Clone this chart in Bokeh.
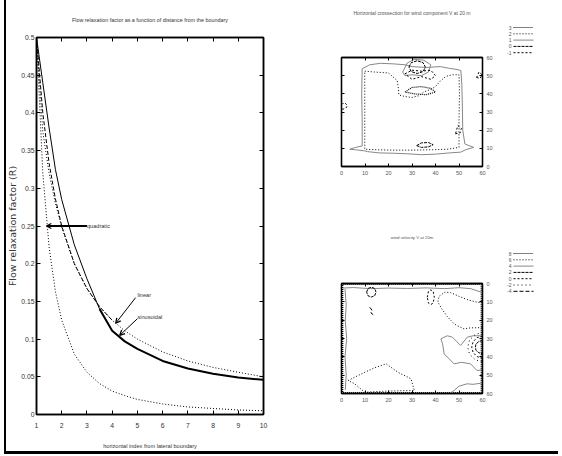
from bokeh.plotting import figure
from bokeh.models import (Range1d, LinearAxis, FixedTicker, Arrow, OpenHead, Label,
                          CustomLabelingPolicy)
from bokeh.layouts import row, column
from bokeh.embed import file_html
from bokeh.resources import INLINE
from bokeh.core.properties import value

SANS = "Liberation Sans"
WIDE = "DejaVu Sans"

# ---------------- left chart data ----------------
dist = [1, 1.25, 1.5, 1.75, 2, 2.5, 3, 3.5, 4, 4.5, 5, 6, 7, 8, 9, 10]
quadratic = [0.5, 0.32, 0.222, 0.163, 0.125, 0.08, 0.056, 0.041, 0.031, 0.025,
             0.02, 0.014, 0.010, 0.008, 0.006, 0.005]
linear = [0.5, 0.4, 0.333, 0.286, 0.25, 0.2, 0.167, 0.143, 0.125, 0.111,
          0.1, 0.083, 0.071, 0.0625, 0.056, 0.05]
upper_dotted = [0.5, 0.375, 0.32, 0.28, 0.248, 0.2, 0.167, 0.143, 0.125, 0.111,
                0.1, 0.083, 0.071, 0.0625, 0.056, 0.05]
sinusoidal = [0.5, 0.44, 0.38, 0.325, 0.285, 0.225, 0.18, 0.14, 0.111, 0.097,
              0.087, 0.071, 0.061, 0.054, 0.049, 0.046]
x_ticks = [1, 2, 3, 4, 5, 6, 7, 8, 9, 10]
y_ticks = [0, 0.05, 0.1, 0.15, 0.2, 0.25, 0.3, 0.35, 0.4, 0.45, 0.5]
y_tick_labels = ["0", "0.05", "0.1", "0.15", "0.2", "0.25", "0.3", "0.35", "0.4", "0.45", "0.5"]

# ---------------- top-right contour data (V component) ----------------
grid_ticks = [0, 10, 20, 30, 40, 50, 60]
top_levels = ["3", "2", "1", "0", "-1"]
top_xs = {
    "3": [[27, 30, 34, 38, 40, 36, 31, 27]],
    "2": [[9.9, 14, 20, 23.7, 24.2, 24.4, 27, 30, 33, 35, 38, 40, 42, 44.3, 47, 50, 50.2, 50, 50, 45, 38, 30, 22, 15, 9.9, 9.9, 9.9]],
    "1": [[8.8, 12, 16.6, 22, 27, 30, 36, 42, 46, 49.2, 50.8, 51.2, 51.4, 51.6, 52.5, 56.3, 53, 50.7, 46, 40, 34, 28, 22, 16, 11, 9.5, 6, 3.5, 6, 8.8, 8.8, 8.6, 8.8],
          [26, 28, 31, 35, 38, 37, 34, 30, 27, 26]],
    "0": [[28.7, 29.7, 32.2, 34.7, 35.7, 34.7, 32.2, 29.7, 28.7],
          [32, 34, 37, 39, 37, 34, 32]],
    "-1": [[27, 30, 34, 38, 40, 38, 34, 30, 27],
           [0.3, 1.8, 2.5, 1.5, 0.3],
           [57.5, 59, 59.8, 58.5, 57.5],
           [48.5, 50.5, 51, 49.5, 48.5]],
}
top_ys = {
    "3": [[41, 43.5, 44, 43, 41, 39.5, 40, 41]],
    "2": [[52.5, 52, 51.5, 47.3, 43, 39.4, 38.5, 38, 39, 41, 42.5, 44, 47, 49.5, 50.5, 50.5, 40, 25, 10.5, 9.5, 9.2, 9, 9, 9.2, 9.5, 30, 52.5]],
    "1": [[53.8, 56, 56.8, 56.5, 56, 55, 54.5, 55, 54, 53.4, 52.8, 45, 35, 20, 12.4, 10.5, 9.3, 7.9, 7.5, 6.8, 6.5, 7, 7.3, 7.5, 8.2, 8.7, 9.2, 9.5, 10.5, 11.3, 25, 40, 53.8],
          [52, 57, 59, 58.5, 56, 52, 50, 50.5, 50, 52]],
    "0": [[54.7, 57.2, 58.2, 57.2, 54.7, 52.2, 51.2, 52.2, 54.7],
          [11.5, 13, 13.2, 12, 10.8, 10.5, 11.5]],
    "-1": [[51, 53, 52.5, 53, 50, 48, 49.5, 48, 51],
           [31.5, 32, 33.5, 35, 34.5],
           [49, 48.5, 50.5, 52, 49],
           [18, 18.5, 21, 22.5, 18]],
}

# ---------------- bottom-right contour data (wind velocity) ----------------
bot_levels = ["8", "6", "4", "2", "0", "-2", "-4"]
bot_xs = {
    "8": [[0.5, 59.5, 59.5, 0.5, 0.5]],
    "6": [[60, 57.7, 54, 50, 46.5, 44, 41.5, 41, 42.5, 45, 47.9, 50, 52.1, 55, 59.2, 60],
          [2.8, 8.5, 14, 19, 24, 29.6, 31, 25, 19.7, 14, 9.9, 5.6, 2.8]],
    "4": [[0.5, 5, 12, 20, 28, 36, 44, 50, 55, 60],
          [1.5, 2.0, 1.6, 2.2, 1.5, 2.0, 1.6],
          [60, 59.2, 56, 53.5, 50.7, 47.2, 45, 42.3, 43, 43.7, 47.9, 51, 54.9, 57.7, 60],
          [46, 47.9, 50, 53.5, 56, 59.2, 60]],
    "2": [[10.7, 11.3, 12.7, 14.1, 14.7, 14.1, 12.7, 11.3, 10.7],
          [60, 58.5, 57.2, 57, 57.2, 58.5, 60]],
    "0": [[36.5, 37, 38, 39, 39.5, 39, 38, 37, 36.5],
          [60, 57.7, 56, 55.4, 56, 57.7, 60]],
    "-2": [[60, 56.9, 54.5, 53.7, 54.5, 56.9, 60]],
    "-4": [[12, 13, 12.5, 13.5]],
}
bot_ys = {
    "8": [[0.5, 0.5, 59.5, 59.5, 0.5]],
    "6": [[10.5, 10.2, 9, 7, 5, 4.7, 7, 10, 13.5, 18, 22, 23.5, 24.7, 24.2, 24.1, 24.3],
          [52.9, 49.3, 46, 43.8, 48.4, 52, 58.4, 58.5, 58.7, 59, 59.3, 54.7, 52.9]],
    "4": [[2.5, 2.2, 2.8, 2.5, 2.7, 2.4, 2.8, 2.3, 2.8, 5.0],
          [3, 12, 20, 30, 40, 50, 58],
          [28, 28.5, 28.5, 29.3, 33.8, 29.3, 28.5, 30.2, 32.9, 38.4, 43.8, 43, 43.8, 47.5, 47],
          [60, 58.4, 56, 54.7, 55, 54.4, 54]],
    "2": [[4.7, 2.7, 2, 2.7, 4.7, 6.7, 7.4, 6.7, 4.7],
          [31.1, 31.6, 33, 34.7, 36.4, 37.8, 38.3]],
    "0": [[7.5, 4.3, 3.5, 4.3, 7.5, 10.7, 11.5, 10.7, 7.5],
          [28.7, 29.5, 31.8, 34.7, 37.6, 39.9, 40.7]],
    "-2": [[26.7, 27.8, 30.8, 34.7, 38.6, 41.6, 42.7]],
    "-4": [[13, 14.5, 16, 17]],
}

top_style = {
    "3": ("black", 1.2, "1 1"), "2": ("black", 1.0, "1 2"), "1": ("#888888", 1.0, "solid"),
    "0": ("black", 1.0, "3 1"), "-1": ("black", 1.0, "2 2"),
}
bot_style = {
    "8": ("black", 1.4, "1 1"), "6": ("black", 1.0, "1 2"), "4": ("#888888", 1.0, "solid"),
    "2": ("black", 1.0, "3 1"), "0": ("black", 1.0, "2 2"), "-2": ("black", 1.0, "1 3"),
    "-4": ("black", 1.0, "4 2"),
}

TXT = "#333333"
LIGHT = "#555555"
HIDE_LABELS = "for (let i = 0; i < bboxes.length; i++) { indices.unset(i) } return indices"


def mirror_axis(ticks, tick_len, width):
    return LinearAxis(ticker=FixedTicker(ticks=ticks), major_tick_in=tick_len, major_tick_out=0,
                      minor_tick_line_color=None, axis_line_width=width, major_label_standoff=0,
                      major_label_text_font_size="1px",
                      major_label_policy=CustomLabelingPolicy(code=HIDE_LABELS))


def text_strip(width, height, mleft, mright, xr, x, y, text, size, color, font=SANS, angle=0.0):
    s = figure(width=width, height=height, x_range=xr, y_range=Range1d(height, 0),
               output_backend="svg", toolbar_location=None, x_axis_type=None, y_axis_type=None,
               min_border_left=mleft, min_border_right=mright, min_border_top=0,
               min_border_bottom=0)
    s.grid.visible = False
    s.outline_line_color = None
    s.text(x=[x], y=[y], text=[text], angle=angle, text_align="center", text_baseline="middle",
           text_font=value(font), text_font_size=value(size), text_color=color)
    return s


# ---------------- left figure ----------------
p = figure(width=280, height=423, x_range=Range1d(1, 10), y_range=Range1d(0, 0.5),
           output_backend="svg", toolbar_location=None,
           min_border_left=15, min_border_right=35, min_border_top=9, min_border_bottom=37)
p.grid.visible = False
p.outline_line_color = "black"
p.outline_line_width = 1.5
p.border_fill_color = "white"

for ax in p.xaxis:
    ax.ticker = FixedTicker(ticks=x_ticks)
    ax.major_tick_in = 4
    ax.major_tick_out = 0
    ax.minor_tick_line_color = None
    ax.major_label_standoff = 8
    ax.major_label_text_font = SANS
    ax.major_label_text_font_size = "6.8px"
    ax.major_label_text_color = TXT
    ax.axis_line_width = 1.5
    ax.axis_label = "horizontal index from lateral boundary"
    ax.axis_label_text_font = SANS
    ax.axis_label_text_font_size = "5.6px"
    ax.axis_label_text_font_style = "normal"
    ax.axis_label_text_color = TXT
    ax.axis_label_standoff = 12

for ax in p.yaxis:
    ax.ticker = FixedTicker(ticks=y_ticks)
    ax.major_label_overrides = dict(zip(y_ticks, y_tick_labels))
    ax.major_tick_in = 4
    ax.major_tick_out = 0
    ax.minor_tick_line_color = None
    ax.major_label_standoff = 2
    ax.major_label_text_font = SANS
    ax.major_label_text_font_size = "6.8px"
    ax.major_label_text_color = TXT
    ax.axis_line_width = 1.5

p.add_layout(mirror_axis(x_ticks, 4, 1.5), "above")
p.add_layout(mirror_axis(y_ticks, 4, 1.5), "right")

p.line(dist, quadratic, line_color="black", line_width=1, line_dash="1 2")
p.line(dist, upper_dotted, line_color="black", line_width=1, line_dash="1 2")
p.line(dist[:9], linear[:9], line_color="black", line_width=1, line_dash="4 2")
p.line(dist[:8], sinusoidal[:8], line_color="black", line_width=1)
p.line(dist[7:], sinusoidal[7:], line_color="black", line_width=2)

for txt, tx, ty, x0, y0, x1, y1 in [("quadratic", 3.0, 0.25, 3.0, 0.25, 1.39, 0.25),
                                     ("linear", 5.0, 0.159, 4.93, 0.155, 4.14, 0.121),
                                     ("sinusoidal", 5.0, 0.129, 5.0, 0.127, 4.30, 0.105)]:
    p.add_layout(Label(x=tx, y=ty, text=txt, text_align="left", text_baseline="middle",
                       text_font=SANS, text_font_size="5.6px", text_color=TXT))
    p.add_layout(Arrow(end=OpenHead(size=5, line_width=1.3, line_color="black"),
                       x_start=x0, y_start=y0, x_end=x1, y_end=y1,
                       line_width=1.8 if txt == "quadratic" else 1.0, line_color="black"))

left_title = text_strip(280, 28, 15, 35, Range1d(1, 10), 5.5, 19,
                        "Flow relaxation factor as a function of distance from the boundary",
                        "5.4px", TXT)
y_label = text_strip(12, 451, 0, 0, Range1d(0, 12), 6, 225.5, "Flow relaxation factor (R)",
                     "9.5px", TXT, font=WIDE, angle=1.5708)


# ---------------- right side ----------------
def contour_fig(height, mtop, mbottom, y_range, levels, xs, ys, styles):
    q = figure(width=204, height=height, x_range=Range1d(0, 60), y_range=y_range,
               output_backend="svg", toolbar_location=None, y_axis_location="right",
               min_border_left=43, min_border_right=20, min_border_top=mtop,
               min_border_bottom=mbottom)
    q.grid.visible = False
    q.outline_line_color = "black"
    q.outline_line_width = 1.3
    q.border_fill_color = "white"
    for ax in list(q.xaxis) + list(q.yaxis):
        ax.ticker = FixedTicker(ticks=grid_ticks)
        ax.major_tick_in = 3
        ax.major_tick_out = 0
        ax.minor_tick_line_color = None
        ax.major_label_text_font = SANS
        ax.major_label_text_font_size = "5.5px"
        ax.major_label_text_color = LIGHT
        ax.major_label_standoff = 4
        ax.axis_line_width = 1.3
    q.add_layout(mirror_axis(grid_ticks, 3, 1.3), "above")
    q.add_layout(mirror_axis(grid_ticks, 3, 1.3), "left")
    for lvl in levels:
        color, width, dash = styles[lvl]
        q.multi_line(xs[lvl], ys[lvl], line_color=color, line_width=width, line_dash=dash)
    return q


def key_fig(height, levels, styles, first_y):
    k = figure(width=56, height=height, x_range=Range1d(0, 56), y_range=Range1d(height, 0),
               output_backend="svg", toolbar_location=None, x_axis_type=None, y_axis_type=None,
               min_border=0)
    k.grid.visible = False
    k.outline_line_color = None
    ys = [first_y + 6.3 * i for i in range(len(levels))]
    k.text(x=[9] * len(levels), y=ys, text=levels, text_align="right", text_baseline="middle",
           text_font=value(SANS), text_font_size=value("5px"), text_color=LIGHT)
    for lvl, y in zip(levels, ys):
        color, width, dash = styles[lvl]
        k.line([11, 31], [y, y], line_color=color, line_width=min(width, 1.0), line_dash=dash)
    return k


s1 = text_strip(204, 24, 43, 20, Range1d(0, 60), 30, 12,
                "Horizontal crossection for wind component V at 20 m", "5px", LIGHT)
q1 = contour_fig(198, 33, 56, Range1d(0, 60), top_levels, top_xs, top_ys, top_style)
s2 = text_strip(204, 28, 43, 20, Range1d(0, 60), 30, 15, "wind velocity V at 20m", "4.3px", LIGHT)
q2 = contour_fig(201, 33, 58, Range1d(60, 0), bot_levels, bot_xs, bot_ys, bot_style)
k1 = key_fig(222, top_levels, top_style, 27)
k2 = key_fig(229, bot_levels, bot_style, 31)

layout = row(y_label, column(left_title, p), column(s1, q1, s2, q2), column(k1, k2),
             styles={"margin-left": "4px", "border-left": "2px solid black",
                     "border-bottom": "3px solid black"})

open("out.html", "w").write(file_html(layout, INLINE))
